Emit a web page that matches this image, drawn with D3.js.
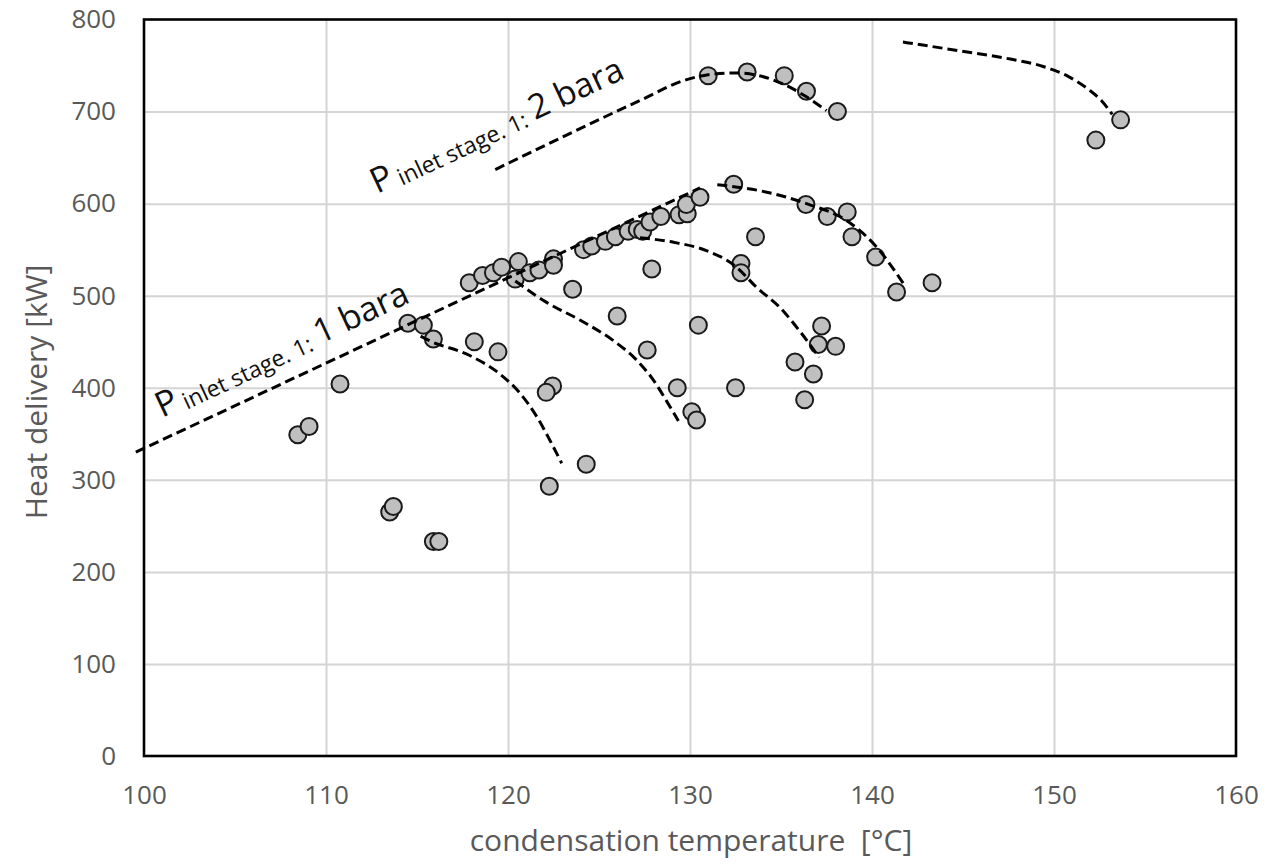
<!DOCTYPE html>
<html>
<head>
<meta charset="utf-8">
<style>
    body { margin: 0; background: #fff; }
    svg { font-family: 'Open Sans', 'Noto Sans', sans-serif; }
    .grid line { stroke: #d4d4d4; stroke-width: 2; }
    .grid .domain { display: none; }
    .axis .domain { display: none; }
    .axis .tick line { display: none; }
    .axis .tick text { font-size: 26px; fill: #595959; }
    .axis-title { font-size: 30px; fill: #595959; white-space: pre; }
    .curve { fill: none; stroke: #000; stroke-width: 3; stroke-dasharray: 10 5; }
    .dot { fill: #bfbfbf; stroke: #1a1a1a; stroke-width: 2; }
    .note { fill: #111; }
</style>
</head>
<body>
<svg width="1279" height="865"></svg>

<script src="https://d3js.org/d3.v7.min.js"></script>
<script>
    // measured points: condensation temperature [°C] and heat delivery [kW]
    let condTemp = [
        108.45, 109.07, 110.77, 113.5, 113.7, 115.9, 116.2, 114.5, 115.35, 115.9,
        118.15, 119.45, 117.87, 118.6, 119.2, 119.65, 120.57, 120.4, 121.2, 121.7,
        122.5, 122.5, 123.55, 124.15, 124.6, 125.35, 125.9, 126.6, 127.1, 127.4,
        127.8, 128.4, 129.4, 129.85, 129.8, 130.55, 132.4, 133.6, 132.8, 132.8,
        127.9, 126.0, 130.46, 127.65, 122.45, 122.1, 124.3, 122.27, 129.3, 130.1,
        130.36, 132.5, 137.23, 137.05, 138.0, 135.77, 136.78, 136.3, 131.0, 133.14,
        135.18, 136.4, 138.1, 136.37, 137.54, 138.64, 138.9, 140.2, 141.35, 143.3,
        153.66, 152.3
    ]
    let heatDelivery = [
        349, 358, 404, 265, 271, 233, 233, 470, 468, 453,
        450, 439, 514, 522, 525, 531, 537, 518, 525, 528,
        540, 533, 507, 550, 554, 559, 564, 570, 572, 570,
        580, 586, 588, 589, 599, 607, 621, 564, 535, 525,
        529, 478, 468, 441, 402, 395, 317, 293, 400, 374,
        365, 400, 467, 447, 445, 428, 415, 387, 739, 743,
        739, 722, 700, 599, 586, 591, 564, 542, 504, 514,
        691, 669
    ]

    // dashed trend lines, [temperature, heat]
    let line1bar = [[99.55, 330], [130.55, 617]]
    let line2bar = [[119.3, 637], [127.25, 712], [129.7, 734], [131, 740], [132.5, 742],
        [133.8, 739], [135, 731], [136.4, 716], [137.5, 701]]
    let knee1bar = [[131.5, 620.5], [133.85, 614], [136.4, 600], [138.8, 579], [140.2, 554], [141.8, 511]]
    let curveA = [[115.2, 456], [115.7, 451], [117.9, 435], [119.55, 415], [120.66, 394],
        [121.6, 368], [122.3, 343], [122.95, 318]]
    let curveB = [[120.4, 516], [122.1, 493], [124, 473], [125.8, 451], [127.07, 430],
        [128, 408], [128.7, 386], [129.36, 364]]
    let curveC = [[127.25, 563], [129.1, 558], [130.9, 549], [132.5, 532], [133.66, 509],
        [134.95, 487], [136.05, 461], [137.1, 433]]
    let curveD = [[141.7, 775.5], [144.8, 766], [147.6, 757], [149.4, 749], [150.8, 738],
        [151.9, 724], [152.6, 712], [153.2, 697]]

    let xTicks = [100, 110, 120, 130, 140, 150, 160]
    let yTicks = [0, 100, 200, 300, 400, 500, 600, 700, 800]

    let margin = { top: 19.5, right: 43, bottom: 109, left: 144 }
    let width = 1279
    let height = 865

    let svg = d3.select("svg")

    let x = d3.scaleLinear()
        .domain([100, 160])
        .range([margin.left, width - margin.right])

    let y = d3.scaleLinear()
        .domain([0, 800])
        .range([height - margin.bottom, margin.top])

    // grid
    svg.append("g")
        .attr("class", "grid")
        .attr("transform", `translate(0,${height - margin.bottom})`)
        .call(d3.axisBottom(x).tickValues(xTicks.slice(1, -1))
            .tickSize(-(height - margin.bottom - margin.top)).tickFormat(""))

    svg.append("g")
        .attr("class", "grid")
        .attr("transform", `translate(${margin.left},0)`)
        .call(d3.axisLeft(y).tickValues(yTicks.slice(1, -1))
            .tickSize(-(width - margin.left - margin.right)).tickFormat(""))

    // axes labels
    svg.append("g")
        .attr("class", "axis")
        .attr("transform", `translate(0,${height - margin.bottom})`)
        .call(d3.axisBottom(x).tickValues(xTicks).tickSize(0).tickPadding(30))
        .attr("font-family", null)
        .attr("font-size", null)

    svg.append("g")
        .attr("class", "axis")
        .attr("transform", `translate(${margin.left},0)`)
        .call(d3.axisLeft(y).tickValues(yTicks).tickSize(0).tickPadding(28))
        .attr("font-family", null)
        .attr("font-size", null)

    // plot frame
    svg.append("rect")
        .attr("x", margin.left)
        .attr("y", margin.top)
        .attr("width", width - margin.left - margin.right)
        .attr("height", height - margin.top - margin.bottom)
        .attr("fill", "none")
        .attr("stroke", "#000")
        .attr("stroke-width", 2.6)

    svg.append("text")
        .attr("class", "axis-title")
        .attr("x", 691)
        .attr("y", 851)
        .attr("text-anchor", "middle")
        .text("condensation temperature  [°C]")

    svg.append("text")
        .attr("class", "axis-title")
        .attr("transform", "translate(47,392) rotate(-90)")
        .attr("text-anchor", "middle")
        .text("Heat delivery [kW]")

    // points
    svg.append("g")
        .selectAll("circle")
        .data(condTemp.map((t, i) => [t, heatDelivery[i]]))
        .join("circle")
        .attr("class", "dot")
        .attr("cx", d => x(d[0]))
        .attr("cy", d => y(d[1]))
        .attr("r", 8.5)

    // dashed lines
    let line = d3.line()
        .x(d => x(d[0]))
        .y(d => y(d[1]))
        .curve(d3.curveMonotoneX)

    svg.append("g")
        .selectAll("path")
        .data([line1bar, line2bar, knee1bar, curveA, curveB, curveC, curveD])
        .join("path")
        .attr("class", "curve")
        .attr("d", line)

    // pressure labels
    function pressureLabel(px, py, value) {
        let t = svg.append("text")
            .attr("class", "note")
            .attr("transform", `translate(${px},${py}) rotate(-25)`)
        t.append("tspan").attr("font-size", 35).text("P")
        t.append("tspan").attr("font-size", 23).attr("dx", 5).attr("dy", 3).text("inlet stage. 1:")
        t.append("tspan").attr("font-size", 34).attr("dx", 7).attr("dy", -3).text(value)
    }
    pressureLabel(162, 418, "1 bara")
    pressureLabel(377, 194, "2 bara")
</script>
</body>
</html>
